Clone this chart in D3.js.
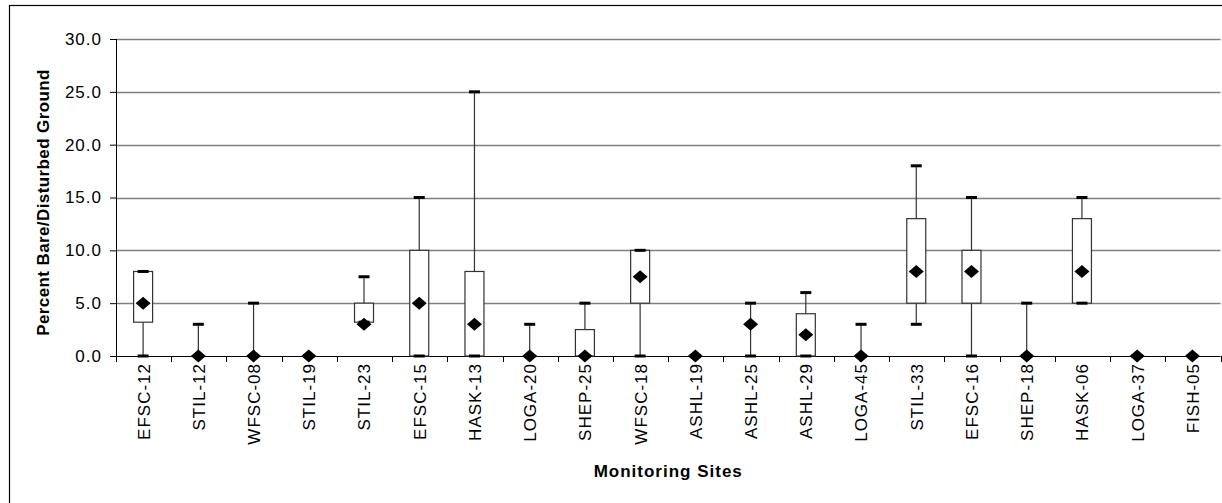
<!DOCTYPE html>
<html>
<head>
<meta charset="utf-8">
<script src="https://cdn.jsdelivr.net/npm/d3@7"></script>
<style>
  body { margin: 0; background: #fff; }
  svg { display: block; font-family: "Liberation Sans", Arial, sans-serif; }
</style>
</head>
<body>
<svg class="chart" width="1222" height="503"></svg>
<script>
// sites in plotting order
const sites = ['EFSC-12', 'STIL-12', 'WFSC-08', 'STIL-19', 'STIL-23', 'EFSC-15', 'HASK-13',
  'LOGA-20', 'SHEP-25', 'WFSC-18', 'ASHL-19', 'ASHL-25', 'ASHL-29', 'LOGA-45', 'STIL-33',
  'EFSC-16', 'SHEP-18', 'HASK-06', 'LOGA-37', 'FISH-05'];
// percent bare/disturbed ground
const minVals  = [0, 0, 0, 0, 3.2, 0, 0, 0, 0, 0, 0, 0, 0, 0, 3, 0, 0, 5, 0, 0];
const q1Vals   = [3.2, 0, 0, 0, 3.2, 0, 0, 0, 0, 5, 0, 0, 0, 0, 5, 5, 0, 5, 0, 0];
const q3Vals   = [8, 0, 0, 0, 5, 10, 8, 0, 2.5, 10, 0, 0, 4, 0, 13, 10, 0, 13, 0, 0];
const maxVals  = [8, 3, 5, 0, 7.5, 15, 25, 3, 5, 10, 0, 5, 6, 3, 18, 15, 5, 15, 0, 0];
const meanVals = [5, 0, 0, 0, 3, 5, 3, 0, 0, 7.5, 0, 3, 2, 0, 8, 8, 0, 8, 0, 0];
const yTicks = [0, 5, 10, 15, 20, 25, 30];

const data = sites.map((s, i) => ({
  site: s, min: minVals[i], q1: q1Vals[i], q3: q3Vals[i], max: maxVals[i], mean: meanVals[i]
}));

const svg = d3.select('.chart');
const width = +svg.attr('width');
const height = +svg.attr('height');
const margin = { top: 39, right: 1.5, bottom: 147, left: 116 };
const innerWidth = width - margin.left - margin.right;
const innerHeight = height - margin.top - margin.bottom;

// outer chart frame (cut off at right and bottom like the original)
svg.append('rect')
  .attr('x', 9.5).attr('y', 5.5)
  .attr('width', width).attr('height', height)
  .attr('fill', 'none').attr('stroke', '#000').attr('stroke-width', 1.2);

const x = d3.scaleBand().domain(sites).range([0, innerWidth]).padding(0);
const y = d3.scaleLinear().domain([0, 30]).range([innerHeight, 0]);

const g = svg.append('g').attr('transform', `translate(${margin.left}, ${margin.top})`);

// gridlines
g.append('g')
  .selectAll('line')
  .data(yTicks.filter(d => d > 0))
  .join('line')
  .attr('x1', 0).attr('x2', innerWidth)
  .attr('y1', d => Math.round(y(d)) + 0.5).attr('y2', d => Math.round(y(d)) + 0.5)
  .attr('stroke', '#808080').attr('stroke-width', 1.3);

// y axis
const yAxis = g.append('g')
  .call(d3.axisLeft(y).tickValues(yTicks).tickSize(6).tickPadding(8).tickFormat(d3.format('.1f')));
yAxis.selectAll('text')
  .attr('font-size', 17).attr('fill', '#000').attr('font-family', null)
  .attr('letter-spacing', 1);
yAxis.selectAll('line, path').attr('stroke', '#000');
yAxis.select('.domain').attr('d', `M0.5,${innerHeight}V0`);

// x axis: labels rotated, ticks between categories
const xAxis = g.append('g')
  .attr('transform', `translate(0, ${innerHeight})`)
  .call(d3.axisBottom(x).tickSize(0).tickPadding(0));
xAxis.select('.domain').remove();
xAxis.selectAll('text')
  .attr('font-size', 17).attr('fill', '#000').attr('font-family', null)
  .attr('letter-spacing', 1)
  .attr('transform', 'rotate(-90)')
  .attr('text-anchor', 'end')
  .attr('x', -7).attr('y', 0).attr('dy', '0.35em');

g.append('line')
  .attr('x1', 0).attr('x2', innerWidth)
  .attr('y1', innerHeight + 0.5).attr('y2', innerHeight + 0.5)
  .attr('stroke', '#000');

g.append('g')
  .selectAll('line')
  .data(sites.map(s => x(s)).concat([innerWidth]))
  .join('line')
  .attr('x1', d => Math.round(d) + 0.5).attr('x2', d => Math.round(d) + 0.5)
  .attr('y1', innerHeight).attr('y2', innerHeight + 6)
  .attr('stroke', '#000');

// box plots
const bw = 19, cw = 11, dm = 6.5;
const boxes = g.append('g')
  .selectAll('g')
  .data(data)
  .join('g')
  .attr('transform', d => `translate(${x(d.site) + x.bandwidth() / 2 - 1}, 0)`);

boxes.filter(d => d.max > d.min)
  .append('line')
  .attr('x1', 0.5).attr('x2', 0.5)
  .attr('y1', d => y(d.min)).attr('y2', d => y(d.max))
  .attr('stroke', '#333').attr('stroke-width', 1.2);

boxes.filter(d => d.q3 > d.q1)
  .append('rect')
  .attr('x', -bw / 2 + 0.5)
  .attr('y', d => y(d.q3))
  .attr('width', bw)
  .attr('height', d => y(d.q1) - y(d.q3))
  .attr('fill', '#fff').attr('stroke', '#333').attr('stroke-width', 1.2);

boxes.selectAll('.cap')
  .data(d => [d.min, d.max])
  .join('line')
  .attr('class', 'cap')
  .attr('x1', -cw / 2 + 0.5).attr('x2', cw / 2 + 0.5)
  .attr('y1', d => y(d)).attr('y2', d => y(d))
  .attr('stroke', '#000').attr('stroke-width', 3);

boxes.append('path')
  .attr('d', d => {
    const cy = y(d.mean);
    return `M0.5,${cy - dm}L${dm + 1.5},${cy}L0.5,${cy + dm}L${-dm - 0.5},${cy}Z`;
  })
  .attr('fill', '#000');

// axis titles
svg.append('text')
  .attr('transform', `translate(49, ${margin.top + innerHeight / 2 + 5}) rotate(-90)`)
  .attr('text-anchor', 'middle')
  .attr('font-size', 17).attr('font-weight', 'bold')
  .attr('letter-spacing', 0.4)
  .text('Percent Bare/Disturbed Ground');

svg.append('text')
  .attr('x', margin.left + innerWidth / 2)
  .attr('y', 477)
  .attr('text-anchor', 'middle')
  .attr('font-size', 17).attr('font-weight', 'bold')
  .attr('letter-spacing', 1)
  .text('Monitoring Sites');
</script>
</body>
</html>
